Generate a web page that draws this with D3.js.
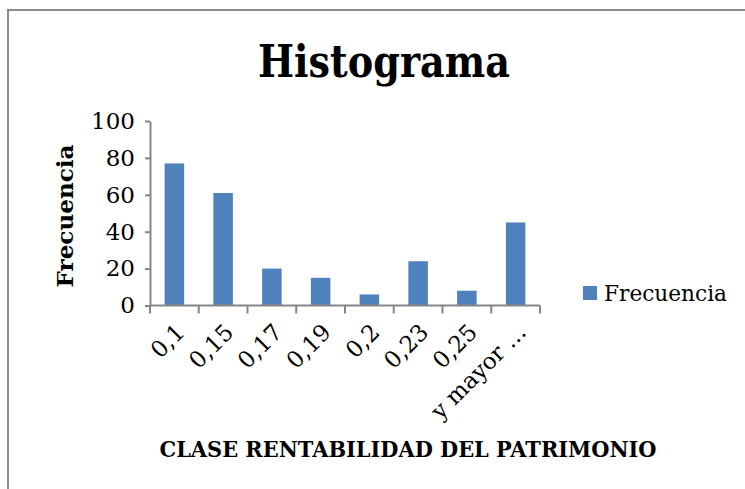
<!DOCTYPE html>
<html>
<head>
  <meta charset="utf-8">
  <title>Histograma</title>
  <style>
    body {margin:0; background:#fff;}
    svg text {font-family: "DejaVu Serif", serif; fill:#000;}
    .axis path, .axis line {stroke:#868686; stroke-width:2; fill:none;}
  </style>
</head>
<body>
<script src="https://cdn.jsdelivr.net/npm/d3@7/dist/d3.min.js"></script>
<script>
  var categories = ['0,1', '0,15', '0,17', '0,19', '0,2', '0,23', '0,25', 'y mayor ...'];
  var frecuencia = [77, 61, 20, 15, 6, 24, 8, 45];
  var yTicks = [0, 20, 40, 60, 80, 100];

  var width = 745,
      height = 489,
      plot_left = 150,
      plot_right = 540,
      plot_top = 121,
      plot_bottom = 305.5;

  var svg = d3.select('body')
    .append('svg')
    .attr('width', width)
    .attr('height', height);

  // outer chart frame
  svg.append('rect')
    .attr('x', 8)
    .attr('y', 10)
    .attr('width', width + 10)
    .attr('height', height + 10)
    .style('fill', 'none')
    .style('stroke', '#8c8c8c')
    .style('stroke-width', 2);

  var x = d3.scaleBand()
    .domain(categories)
    .range([plot_left, plot_right])
    .paddingInner(0.6)
    .paddingOuter(0.3);

  var y = d3.scaleLinear()
    .domain([0, 100])
    .range([plot_bottom, plot_top]);

  svg.append('text')
    .text('Histograma')
    .attr('x', 384)
    .attr('y', 77)
    .attr('text-anchor', 'middle')
    .attr('textLength', 252)
    .attr('lengthAdjust', 'spacingAndGlyphs')
    .style('font-size', '45px')
    .style('font-weight', 'bold');

  // bars
  svg.append('g')
    .selectAll('rect')
    .data(frecuencia)
    .enter()
    .append('rect')
    .attr('x', function(d, i){ return x(categories[i]) })
    .attr('width', x.bandwidth())
    .attr('y', function(d){ return y(d) })
    .attr('height', function(d){ return y(0) - y(d) })
    .style('fill', '#4f81bd');

  // y axis
  var yAxis = svg.append('g')
    .attr('class', 'axis')
    .attr('transform', 'translate(' + plot_left + ',0)')
    .call(d3.axisLeft(y).tickValues(yTicks).tickSize(5).tickSizeOuter(0).tickPadding(10));
  yAxis.selectAll('text')
    .style('font-family', '"DejaVu Serif", serif')
    .style('font-size', '23px');

  // x axis: line with ticks on band edges
  var xAxis = svg.append('g')
    .attr('class', 'axis');
  xAxis.append('line')
    .attr('x1', plot_left)
    .attr('x2', plot_right)
    .attr('y1', y(0))
    .attr('y2', y(0));
  var step = x.step();
  xAxis.selectAll('line.tick')
    .data(d3.range(categories.length + 1))
    .enter()
    .append('line')
    .attr('class', 'tick')
    .attr('x1', function(i){ return plot_left + i * step })
    .attr('x2', function(i){ return plot_left + i * step })
    .attr('y1', y(0))
    .attr('y2', y(0) + 8);

  svg.append('g')
    .selectAll('text')
    .data(categories)
    .enter()
    .append('text')
    .text(function(d){ return d })
    .attr('transform', function(d){
      return 'translate(' + (x(d) + x.bandwidth() / 2 + 6) + ',' + 328 + ') rotate(-45)'
    })
    .attr('text-anchor', 'end')
    .attr('dy', '0.35em')
    .style('font-size', '23px');

  // axis titles
  svg.append('text')
    .text('Frecuencia')
    .attr('transform', 'translate(73,216) rotate(-90)')
    .attr('text-anchor', 'middle')
    .attr('textLength', 143)
    .attr('lengthAdjust', 'spacingAndGlyphs')
    .style('font-size', '23px')
    .style('font-weight', 'bold');

  svg.append('text')
    .text('CLASE RENTABILIDAD DEL PATRIMONIO')
    .attr('x', 408)
    .attr('y', 457)
    .attr('text-anchor', 'middle')
    .attr('textLength', 497)
    .attr('lengthAdjust', 'spacingAndGlyphs')
    .style('font-size', '23px')
    .style('font-weight', 'bold');

  // legend
  var legend = svg.append('g')
    .attr('transform', 'translate(583,286)');
  legend.append('rect')
    .attr('width', 14)
    .attr('height', 14)
    .style('fill', '#4f81bd');
  legend.append('text')
    .text('Frecuencia')
    .attr('x', 21)
    .attr('y', 15)
    .attr('textLength', 123)
    .attr('lengthAdjust', 'spacingAndGlyphs')
    .style('font-size', '22px');
</script>
</body>
</html>
